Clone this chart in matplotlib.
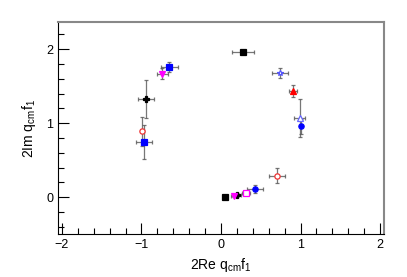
import matplotlib
matplotlib.use("Agg")
import matplotlib.pyplot as plt
from matplotlib.ticker import MultipleLocator

plt.rcParams['font.family'] = ['Liberation Sans', 'DejaVu Sans']
plt.rcParams['mathtext.default'] = 'regular'

# points: x, y, xerr, yerr, marker, color, filled
re_vals = [0.28, 0.74, 0.90, 0.99, 1.00, 0.70, 0.43, 0.31, 0.20, 0.16, 0.05,
           -0.65, -0.74, -0.94, -0.99, -0.97]
im_vals = [1.96, 1.68, 1.43, 1.07, 0.96, 0.29, 0.11, 0.06, 0.03, 0.02, 0.00,
           1.76, 1.67, 1.33, 0.89, 0.75]
re_errs = [0.14, 0.10, 0.05, 0.07, 0.0, 0.10, 0.10, 0.05, 0.05, 0.03, 0.0,
           0.11, 0.07, 0.10, 0.02, 0.10]
im_errs = [0.03, 0.07, 0.08, 0.26, 0.10, 0.10, 0.05, 0.02, 0.03, 0.02, 0.0,
           0.07, 0.07, 0.26, 0.20, 0.23]
markers = ['s', '*', '^', '^', 'o', 'o', 'o', 's', 'P', 'v', 's',
           's', 'v', 'P', 'o', 's']
colors = ['black', '#5555ff', 'red', '#6666ff', 'blue', '#ee3333', 'blue', 'magenta', 'black', 'magenta', 'black',
          'blue', 'magenta', 'black', '#ee3333', 'blue']
filled = [True, False, True, False, True, False, True, False, True, True, True,
          True, True, True, False, True]

fig = plt.figure(figsize=(4.07, 2.77), dpi=100)
ax = fig.add_axes([0.1425, 0.155, 0.801, 0.766])

for x, y, xe, ye, m, c, f in zip(re_vals, im_vals, re_errs, im_errs, markers, colors, filled):
    ax.errorbar(x, y, xerr=xe, yerr=ye, fmt='none', ecolor='#555555', elinewidth=0.9,
                capsize=1.5, capthick=0.9, alpha=0.8, zorder=2)
    ax.plot(x, y, marker=m, ms=3.8, color=c, mfc=c if f else 'white', mec=c,
            mew=0.9, ls='none', zorder=3)

ax.set_xlim(-2.05, 2.05)
ax.set_ylim(-0.5, 2.37)
ax.xaxis.set_major_locator(MultipleLocator(1))
ax.xaxis.set_minor_locator(MultipleLocator(0.2))
ax.yaxis.set_major_locator(MultipleLocator(1))
ax.yaxis.set_minor_locator(MultipleLocator(0.2))
ax.tick_params(which='both', direction='in', top=False, right=False, labelsize=9)
ax.tick_params(which='major', length=8, width=0.8)
ax.tick_params(which='minor', length=4, width=0.8)
for s in ['top', 'right']:
    ax.spines[s].set_color('#888888')
    ax.spines[s].set_linewidth(1.5)
ax.set_xlabel('2Re q$_{cm}$f$_1$', fontsize=10)
ax.set_ylabel('2Im q$_{cm}$f$_1$', fontsize=10, labelpad=6)

fig.savefig('out.png', dpi=100)
